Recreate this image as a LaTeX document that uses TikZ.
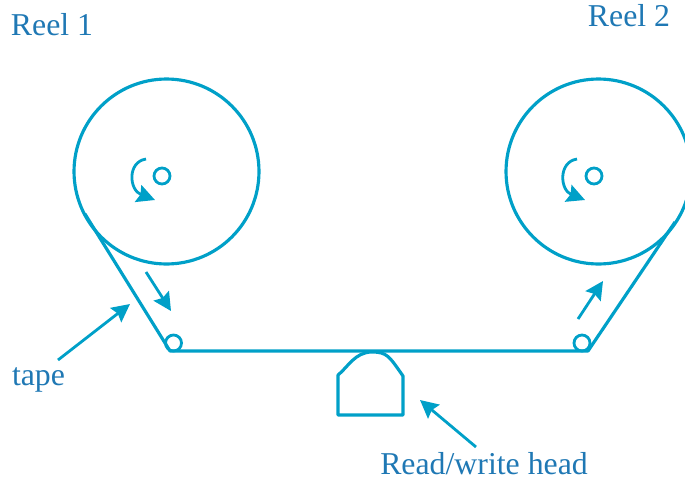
\documentclass[tikz,border=0pt]{standalone}
\usepackage{fontspec}
\setmainfont{Liberation Serif}
\usetikzlibrary{arrows.meta}
\definecolor{tapeblue}{HTML}{00A0C8}
\definecolor{labelblue}{HTML}{1F78B4}

\begin{document}
\begin{tikzpicture}[
      x=0.02cm, y=-0.02cm,
      every node/.style={font=\fontsize{18.1}{21}\selectfont, text=labelblue},
      reel/.style={draw=tapeblue, circle, line width=1.8pt, inner sep=0pt, minimum size=3.7cm},
      hub/.style={draw=tapeblue, circle, line width=1.6pt, inner sep=0pt, minimum size=0.32cm},
      tapeline/.style={draw=tapeblue, line width=1.8pt, line join=round},
      motion/.style={draw=tapeblue, line width=1.6pt, -{Stealth[length=0.36cm, width=0.36cm, inset=0.05cm]}},
    ]
    \useasboundingbox (0,0) rectangle (685,484);
    % Reels
    \node[reel] (reel1) at (166.5,171.5) {};
    \node[reel] (reel2) at (598.5,171.5) {};
    \node[hub] (hub1) at (162,176) {};
    \node[hub] (hub2) at (594,176) {};
    % Rollers
    \node[hub] (roller1) at (173.5,343) {};
    \node[hub] (roller2) at (582,343) {};
    % Labels
    \node (reel1label) at (52,25) {Reel 1};
    \node (reel2label) at (629,16) {Reel 2};
    \node (tapelabel) at (38.5,380) {tape};
    \node (headlabel) at (484,464) {Read/write head};
    % Ends of the tape and of the arrows
    \coordinate (tape1) at (85,214);
    \coordinate (tape2) at (675,222);
    \coordinate (corner1) at (170,351);
    \coordinate (corner2) at (588,351);
    \coordinate (tapefrom) at (58,360);
    \coordinate (tapeto) at (130,304);
    \coordinate (headfrom) at (476,447);
    \coordinate (headto) at (420,400);
    \coordinate (downfrom) at (146,272);
    \coordinate (downto) at (171,311);
    \coordinate (upfrom) at (578,319);
    \coordinate (upto) at (603,281);
    \coordinate (spin1from) at (146,159);
    \coordinate (spin1to) at (155,200);
    \coordinate (spin2from) at (577,159);
    \coordinate (spin2to) at (585,200);

    \draw[tapeline] (tape1) -- (corner1) -- (corner2) -- (tape2);
    % Head
    \node[inner sep=0pt, minimum size=0pt] (headtop) at (372,352) {};
    \draw[tapeline] (headtop.center) .. controls (387,352) and (389,356) .. (403,376)
      -- (403,415) -- (338,415) -- (338,375)
      .. controls (348,367) and (355,352) .. (headtop.center);

    \draw[motion] (tapefrom) -- (tapeto);
    \draw[motion] (headfrom) -- (headto);
    \draw[motion] (downfrom) -- (downto);
    \draw[motion] (upfrom) -- (upto);
    \draw[motion] (spin1from) .. controls (127,162) and (129,190) .. (spin1to);
    \draw[motion] (spin2from) .. controls (558,162) and (560,190) .. (spin2to);
  \end{tikzpicture}
\end{document}
